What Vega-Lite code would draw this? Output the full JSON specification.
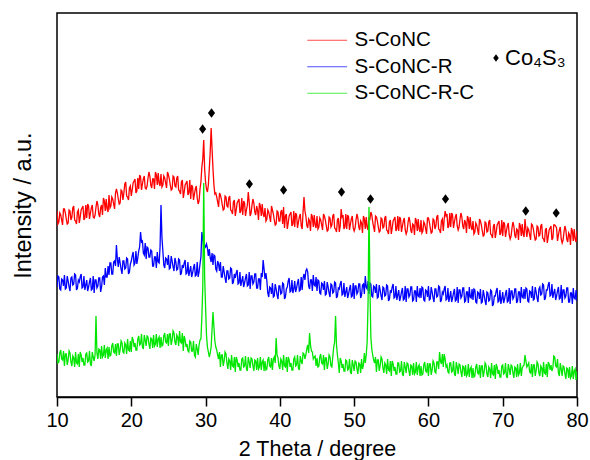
{
"$schema": "https://vega.github.io/schema/vega-lite/v6.json",
"width": 520, "height": 384,
"autosize": {"type": "none"},
"padding": {"left": 57, "top": 13, "right": 13, "bottom": 63},
"background": "white",
"config": {"view": {"stroke": "black", "strokeWidth": 1.5}, "font": "Liberation Sans"},
"datasets": {
"xrd": [
{"x":10,"s1":186,"s2":110,"s3":43},{"x":10.25,"s1":175,"s2":120,"s3":35},{"x":10.5,"s1":182,"s2":107,"s3":47},{"x":10.75,"s1":172,"s2":117,"s3":37},
{"x":11,"s1":188,"s2":122,"s3":31},{"x":11.25,"s1":178,"s2":109,"s3":43},{"x":11.5,"s1":174,"s2":116,"s3":37},{"x":11.75,"s1":186,"s2":106,"s3":44},
{"x":12,"s1":180,"s2":120,"s3":31},{"x":12.25,"s1":191,"s2":113,"s3":39},{"x":12.5,"s1":176,"s2":122,"s3":45},{"x":12.75,"s1":185,"s2":109,"s3":33},
{"x":13,"s1":174,"s2":115,"s3":30},{"x":13.25,"s1":187,"s2":123,"s3":42},{"x":13.5,"s1":191,"s2":110,"s3":39},{"x":13.75,"s1":179,"s2":107,"s3":32},
{"x":14,"s1":179,"s2":117,"s3":44},{"x":14.25,"s1":191,"s2":110,"s3":36},{"x":14.5,"s1":184,"s2":119,"s3":33},{"x":14.75,"s1":192,"s2":108,"s3":45},
{"x":15,"s1":179,"s2":104,"s3":36},{"x":15.25,"s1":190,"s2":117,"s3":81},{"x":15.5,"s1":192,"s2":111,"s3":38},{"x":15.75,"s1":180,"s2":119,"s3":47},
{"x":16,"s1":192,"s2":110,"s3":51},{"x":16.25,"s1":199,"s2":121,"s3":42},{"x":16.5,"s1":186,"s2":129,"s3":39},{"x":16.75,"s1":188,"s2":120,"s3":49},
{"x":17,"s1":202,"s2":122,"s3":50},{"x":17.25,"s1":191,"s2":134,"s3":42},{"x":17.5,"s1":198,"s2":123,"s3":54},{"x":17.75,"s1":188,"s2":136,"s3":44},
{"x":18,"s1":208,"s2":152,"s3":41},{"x":18.25,"s1":198,"s2":130,"s3":53},{"x":18.5,"s1":194,"s2":134,"s3":47},{"x":18.75,"s1":206,"s2":123,"s3":54},
{"x":19,"s1":204,"s2":136,"s3":44},{"x":19.25,"s1":215,"s2":129,"s3":52},{"x":19.5,"s1":200,"s2":138,"s3":58},{"x":19.75,"s1":209,"s2":125,"s3":46},
{"x":20,"s1":201,"s2":136,"s3":45},{"x":20.25,"s1":214,"s2":145,"s3":57},{"x":20.5,"s1":218,"s2":134,"s3":54},{"x":20.75,"s1":206,"s2":133,"s3":47},
{"x":21,"s1":208,"s2":146,"s3":61},{"x":21.25,"s1":220,"s2":165,"s3":53},{"x":21.5,"s1":213,"s2":156,"s3":50},{"x":21.75,"s1":221,"s2":142,"s3":62},
{"x":22,"s1":208,"s2":138,"s3":51},{"x":22.25,"s1":219,"s2":149,"s3":60},{"x":22.5,"s1":221,"s2":140,"s3":48},{"x":22.75,"s1":209,"s2":146,"s3":58},
{"x":23,"s1":218,"s2":131,"s3":62},{"x":23.25,"s1":225,"s2":140,"s3":53},{"x":23.5,"s1":212,"s2":145,"s3":50},{"x":23.75,"s1":214,"s2":134,"s3":60},
{"x":24,"s1":223,"s2":192,"s3":60},{"x":24.25,"s1":212,"s2":146,"s3":52},{"x":24.5,"s1":219,"s2":129,"s3":64},{"x":24.75,"s1":209,"s2":138,"s3":54},
{"x":25,"s1":222,"s2":142,"s3":51},{"x":25.25,"s1":212,"s2":129,"s3":63},{"x":25.5,"s1":208,"s2":136,"s3":57},{"x":25.75,"s1":220,"s2":126,"s3":64},
{"x":26,"s1":210,"s2":135,"s3":52},{"x":26.25,"s1":221,"s2":128,"s3":60},{"x":26.5,"s1":206,"s2":137,"s3":66},{"x":26.75,"s1":215,"s2":124,"s3":54},
{"x":27,"s1":199,"s2":129,"s3":46},{"x":27.25,"s1":212,"s2":137,"s3":57},{"x":27.5,"s1":216,"s2":124,"s3":53},{"x":27.75,"s1":204,"s2":121,"s3":45},
{"x":28,"s1":198,"s2":131,"s3":55},{"x":28.25,"s1":210,"s2":124,"s3":46},{"x":28.5,"s1":203,"s2":133,"s3":42},{"x":28.75,"s1":211,"s2":122,"s3":53},
{"x":29,"s1":193,"s2":120,"s3":42},{"x":29.25,"s1":208,"s2":133,"s3":57},{"x":29.5,"s1":230,"s2":165,"s3":80},{"x":29.75,"s1":257,"s2":150,"s3":214},
{"x":30,"s1":215,"s2":150,"s3":90},{"x":30.25,"s1":205,"s2":149,"s3":50},{"x":30.5,"s1":228,"s2":148,"s3":40},{"x":30.75,"s1":269,"s2":135,"s3":50},
{"x":31,"s1":228,"s2":132,"s3":85},{"x":31.25,"s1":203,"s2":141,"s3":56},{"x":31.5,"s1":200,"s2":126,"s3":47},{"x":31.75,"s1":190,"s2":133,"s3":38},
{"x":32,"s1":202,"s2":135,"s3":30},{"x":32.25,"s1":192,"s2":120,"s3":42},{"x":32.5,"s1":188,"s2":125,"s3":36},{"x":32.75,"s1":200,"s2":114,"s3":43},
{"x":33,"s1":190,"s2":126,"s3":28},{"x":33.25,"s1":201,"s2":119,"s3":36},{"x":33.5,"s1":186,"s2":128,"s3":42},{"x":33.75,"s1":195,"s2":115,"s3":30},
{"x":34,"s1":181,"s2":119,"s3":25},{"x":34.25,"s1":194,"s2":127,"s3":37},{"x":34.5,"s1":198,"s2":114,"s3":34},{"x":34.75,"s1":186,"s2":111,"s3":27},
{"x":35,"s1":182,"s2":121,"s3":39},{"x":35.25,"s1":194,"s2":114,"s3":31},{"x":35.5,"s1":187,"s2":123,"s3":28},{"x":35.75,"s1":205,"s2":112,"s3":40},
{"x":36,"s1":181,"s2":108,"s3":29},{"x":36.25,"s1":192,"s2":121,"s3":38},{"x":36.5,"s1":194,"s2":115,"s3":26},{"x":36.75,"s1":182,"s2":123,"s3":36},
{"x":37,"s1":187,"s2":109,"s3":39},{"x":37.25,"s1":194,"s2":118,"s3":30},{"x":37.5,"s1":181,"s2":124,"s3":27},{"x":37.75,"s1":183,"s2":137,"s3":37},
{"x":38,"s1":189,"s2":118,"s3":36},{"x":38.25,"s1":178,"s2":116,"s3":28},{"x":38.5,"s1":185,"s2":100,"s3":40},{"x":38.75,"s1":175,"s2":109,"s3":30},
{"x":39,"s1":187,"s2":114,"s3":27},{"x":39.25,"s1":177,"s2":101,"s3":40},{"x":39.5,"s1":173,"s2":108,"s3":59},{"x":39.75,"s1":185,"s2":98,"s3":39},
{"x":40,"s1":176,"s2":111,"s3":28},{"x":40.25,"s1":187,"s2":104,"s3":36},{"x":40.5,"s1":190,"s2":113,"s3":42},{"x":40.75,"s1":181,"s2":100,"s3":30},
{"x":41,"s1":168,"s2":110,"s3":25},{"x":41.25,"s1":181,"s2":119,"s3":37},{"x":41.5,"s1":185,"s2":106,"s3":34},{"x":41.75,"s1":173,"s2":104,"s3":27},
{"x":42,"s1":170,"s2":116,"s3":40},{"x":42.25,"s1":182,"s2":109,"s3":32},{"x":42.5,"s1":175,"s2":118,"s3":29},{"x":42.75,"s1":183,"s2":107,"s3":41},
{"x":43,"s1":168,"s2":107,"s3":33},{"x":43.25,"s1":200,"s2":123,"s3":43},{"x":43.5,"s1":181,"s2":126,"s3":42},{"x":43.75,"s1":169,"s2":125,"s3":52},
{"x":44,"s1":176,"s2":108,"s3":64},{"x":44.25,"s1":183,"s2":117,"s3":46},{"x":44.5,"s1":170,"s2":122,"s3":38},{"x":44.75,"s1":172,"s2":111,"s3":41},
{"x":45,"s1":181,"s2":106,"s3":39},{"x":45.25,"s1":170,"s2":116,"s3":31},{"x":45.5,"s1":177,"s2":103,"s3":43},{"x":45.75,"s1":167,"s2":113,"s3":33},
{"x":46,"s1":181,"s2":116,"s3":27},{"x":46.25,"s1":171,"s2":103,"s3":39},{"x":46.5,"s1":167,"s2":110,"s3":33},{"x":46.75,"s1":179,"s2":100,"s3":40},
{"x":47,"s1":172,"s2":112,"s3":30},{"x":47.25,"s1":183,"s2":105,"s3":50},{"x":47.5,"s1":168,"s2":114,"s3":81},{"x":47.75,"s1":177,"s2":101,"s3":42},
{"x":48,"s1":165,"s2":108,"s3":24},{"x":48.25,"s1":188,"s2":116,"s3":36},{"x":48.5,"s1":182,"s2":103,"s3":33},{"x":48.75,"s1":170,"s2":100,"s3":26},
{"x":49,"s1":168,"s2":110,"s3":36},{"x":49.25,"s1":180,"s2":103,"s3":28},{"x":49.5,"s1":173,"s2":112,"s3":25},{"x":49.75,"s1":181,"s2":101,"s3":37},
{"x":50,"s1":166,"s2":98,"s3":26},{"x":50.25,"s1":177,"s2":111,"s3":35},{"x":50.5,"s1":179,"s2":105,"s3":23},{"x":50.75,"s1":167,"s2":113,"s3":33},
{"x":51,"s1":174,"s2":102,"s3":38},{"x":51.25,"s1":181,"s2":113,"s3":32},{"x":51.5,"s1":168,"s2":121,"s3":34},{"x":51.75,"s1":170,"s2":108,"s3":55},
{"x":52,"s1":179,"s2":103,"s3":190},{"x":52.25,"s1":185,"s2":113,"s3":60},{"x":52.5,"s1":175,"s2":100,"s3":42},{"x":52.75,"s1":165,"s2":110,"s3":34},
{"x":53,"s1":180,"s2":113,"s3":25},{"x":53.25,"s1":170,"s2":100,"s3":37},{"x":53.5,"s1":166,"s2":107,"s3":31},{"x":53.75,"s1":178,"s2":97,"s3":38},
{"x":54,"s1":170,"s2":109,"s3":24},{"x":54.25,"s1":181,"s2":102,"s3":32},{"x":54.5,"s1":166,"s2":111,"s3":38},{"x":54.75,"s1":175,"s2":98,"s3":26},
{"x":55,"s1":163,"s2":105,"s3":21},{"x":55.25,"s1":176,"s2":113,"s3":33},{"x":55.5,"s1":180,"s2":100,"s3":30},{"x":55.75,"s1":168,"s2":97,"s3":23},
{"x":56,"s1":166,"s2":107,"s3":34},{"x":56.25,"s1":178,"s2":100,"s3":26},{"x":56.5,"s1":171,"s2":109,"s3":23},{"x":56.75,"s1":179,"s2":98,"s3":35},
{"x":57,"s1":163,"s2":95,"s3":24},{"x":57.25,"s1":174,"s2":108,"s3":33},{"x":57.5,"s1":176,"s2":102,"s3":21},{"x":57.75,"s1":164,"s2":110,"s3":31},
{"x":58,"s1":172,"s2":97,"s3":34},{"x":58.25,"s1":179,"s2":106,"s3":25},{"x":58.5,"s1":166,"s2":111,"s3":22},{"x":58.75,"s1":168,"s2":100,"s3":32},
{"x":59,"s1":177,"s2":99,"s3":31},{"x":59.25,"s1":166,"s2":109,"s3":23},{"x":59.5,"s1":173,"s2":96,"s3":35},{"x":59.75,"s1":163,"s2":106,"s3":25},
{"x":60,"s1":179,"s2":111,"s3":21},{"x":60.25,"s1":169,"s2":98,"s3":33},{"x":60.5,"s1":165,"s2":105,"s3":27},{"x":60.75,"s1":177,"s2":95,"s3":34},
{"x":61,"s1":171,"s2":108,"s3":24},{"x":61.25,"s1":182,"s2":101,"s3":35},{"x":61.5,"s1":167,"s2":110,"s3":45},{"x":61.75,"s1":176,"s2":97,"s3":33},
{"x":62,"s1":166,"s2":103,"s3":30},{"x":62.25,"s1":186,"s2":111,"s3":38},{"x":62.5,"s1":183,"s2":98,"s3":32},{"x":62.75,"s1":171,"s2":95,"s3":24},
{"x":63,"s1":170,"s2":106,"s3":34},{"x":63.25,"s1":182,"s2":99,"s3":26},{"x":63.5,"s1":175,"s2":108,"s3":23},{"x":63.75,"s1":183,"s2":97,"s3":35},
{"x":64,"s1":167,"s2":94,"s3":23},{"x":64.25,"s1":178,"s2":107,"s3":32},{"x":64.5,"s1":180,"s2":101,"s3":20},{"x":64.75,"s1":168,"s2":109,"s3":30},
{"x":65,"s1":174,"s2":96,"s3":32},{"x":65.25,"s1":181,"s2":105,"s3":23},{"x":65.5,"s1":168,"s2":110,"s3":20},{"x":65.75,"s1":170,"s2":99,"s3":30},
{"x":66,"s1":176,"s2":97,"s3":29},{"x":66.25,"s1":165,"s2":107,"s3":21},{"x":66.5,"s1":172,"s2":94,"s3":33},{"x":66.75,"s1":162,"s2":104,"s3":23},
{"x":67,"s1":176,"s2":108,"s3":19},{"x":67.25,"s1":166,"s2":95,"s3":31},{"x":67.5,"s1":162,"s2":102,"s3":25},{"x":67.75,"s1":174,"s2":92,"s3":32},
{"x":68,"s1":166,"s2":104,"s3":20},{"x":68.25,"s1":177,"s2":97,"s3":28},{"x":68.5,"s1":162,"s2":106,"s3":34},{"x":68.75,"s1":171,"s2":93,"s3":22},
{"x":69,"s1":159,"s2":101,"s3":18},{"x":69.25,"s1":172,"s2":109,"s3":30},{"x":69.5,"s1":176,"s2":96,"s3":27},{"x":69.75,"s1":164,"s2":93,"s3":20},
{"x":70,"s1":161,"s2":105,"s3":32},{"x":70.25,"s1":173,"s2":98,"s3":24},{"x":70.5,"s1":166,"s2":107,"s3":21},{"x":70.75,"s1":174,"s2":96,"s3":33},
{"x":71,"s1":158,"s2":93,"s3":22},{"x":71.25,"s1":169,"s2":106,"s3":31},{"x":71.5,"s1":171,"s2":100,"s3":19},{"x":71.75,"s1":159,"s2":108,"s3":29},
{"x":72,"s1":167,"s2":96,"s3":33},{"x":72.25,"s1":174,"s2":105,"s3":24},{"x":72.5,"s1":161,"s2":110,"s3":21},{"x":72.75,"s1":163,"s2":99,"s3":31},
{"x":73,"s1":178,"s2":98,"s3":42},{"x":73.25,"s1":160,"s2":108,"s3":30},{"x":73.5,"s1":167,"s2":95,"s3":34},{"x":73.75,"s1":157,"s2":105,"s3":24},
{"x":74,"s1":172,"s2":111,"s3":20},{"x":74.25,"s1":162,"s2":98,"s3":32},{"x":74.5,"s1":158,"s2":105,"s3":26},{"x":74.75,"s1":170,"s2":95,"s3":33},
{"x":75,"s1":162,"s2":110,"s3":21},{"x":75.25,"s1":173,"s2":103,"s3":29},{"x":75.5,"s1":158,"s2":112,"s3":35},{"x":75.75,"s1":167,"s2":99,"s3":23},
{"x":76,"s1":154,"s2":107,"s3":20},{"x":76.25,"s1":167,"s2":115,"s3":33},{"x":76.5,"s1":171,"s2":102,"s3":32},{"x":76.75,"s1":159,"s2":99,"s3":29},
{"x":77,"s1":172,"s2":108,"s3":40},{"x":77.25,"s1":169,"s2":101,"s3":30},{"x":77.5,"s1":162,"s2":110,"s3":24},{"x":77.75,"s1":170,"s2":99,"s3":34},
{"x":78,"s1":154,"s2":94,"s3":21},{"x":78.25,"s1":165,"s2":107,"s3":30},{"x":78.5,"s1":167,"s2":101,"s3":18},{"x":78.75,"s1":155,"s2":109,"s3":28},
{"x":79,"s1":162,"s2":95,"s3":30},{"x":79.25,"s1":169,"s2":104,"s3":21},{"x":79.5,"s1":156,"s2":109,"s3":18},{"x":79.75,"s1":158,"s2":98,"s3":28},
{"x":80,"s1":166,"s2":96,"s3":26},
{"x":10.125,"s1":173,"s2":121,"s3":34},{"x":10.375,"s1":184,"s2":108,"s3":44},{"x":10.625,"s1":177,"s2":118,"s3":38},{"x":10.875,"s1":188,"s2":111,"s3":46},
{"x":11.125,"s1":184,"s2":108,"s3":43},{"x":11.375,"s1":173,"s2":121,"s3":32},{"x":11.625,"s1":187,"s2":110,"s3":46},{"x":11.875,"s1":177,"s2":119,"s3":35},
{"x":12.125,"s1":189,"s2":112,"s3":41},{"x":12.375,"s1":177,"s2":123,"s3":30},{"x":12.625,"s1":173,"s2":107,"s3":34},{"x":12.875,"s1":187,"s2":117,"s3":43},
{"x":13.125,"s1":180,"s2":120,"s3":45},{"x":13.375,"s1":189,"s2":109,"s3":35},{"x":13.625,"s1":177,"s2":121,"s3":32},{"x":13.875,"s1":192,"s2":112,"s3":43},
{"x":14.125,"s1":193,"s2":106,"s3":35},{"x":14.375,"s1":178,"s2":115,"s3":46},{"x":14.625,"s1":189,"s2":107,"s3":31},{"x":14.875,"s1":180,"s2":121,"s3":40},
{"x":15.125,"s1":182,"s2":117,"s3":42},{"x":15.375,"s1":196,"s2":109,"s3":44},{"x":15.625,"s1":183,"s2":119,"s3":48},{"x":15.875,"s1":189,"s2":105,"s3":38},
{"x":16.125,"s1":182,"s2":120,"s3":40},{"x":16.375,"s1":196,"s2":112,"s3":52},{"x":16.625,"s1":198,"s2":120,"s3":47},{"x":16.875,"s1":185,"s2":131,"s3":38},
{"x":17.125,"s1":189,"s2":134,"s3":41},{"x":17.375,"s1":200,"s2":123,"s3":51},{"x":17.625,"s1":193,"s2":135,"s3":45},{"x":17.875,"s1":204,"s2":131,"s3":53},
{"x":18.125,"s1":204,"s2":138,"s3":53},{"x":18.375,"s1":193,"s2":140,"s3":42},{"x":18.625,"s1":207,"s2":128,"s3":56},{"x":18.875,"s1":197,"s2":136,"s3":45},
{"x":19.125,"s1":213,"s2":128,"s3":54},{"x":19.375,"s1":201,"s2":139,"s3":43},{"x":19.625,"s1":197,"s2":123,"s3":47},{"x":19.875,"s1":211,"s2":133,"s3":56},
{"x":20.125,"s1":207,"s2":141,"s3":60},{"x":20.375,"s1":216,"s2":132,"s3":50},{"x":20.625,"s1":204,"s2":146,"s3":47},{"x":20.875,"s1":219,"s2":139,"s3":58},
{"x":21.125,"s1":222,"s2":150,"s3":52},{"x":21.375,"s1":207,"s2":155,"s3":63},{"x":21.625,"s1":218,"s2":144,"s3":48},{"x":21.875,"s1":209,"s2":154,"s3":57},
{"x":22.125,"s1":211,"s2":150,"s3":61},{"x":22.375,"s1":225,"s2":140,"s3":53},{"x":22.625,"s1":212,"s2":147,"s3":59},{"x":22.875,"s1":218,"s2":131,"s3":49},
{"x":23.125,"s1":208,"s2":140,"s3":51},{"x":23.375,"s1":222,"s2":129,"s3":63},{"x":23.625,"s1":224,"s2":135,"s3":58},{"x":23.875,"s1":211,"s2":150,"s3":49},
{"x":24.125,"s1":210,"s2":160,"s3":51},{"x":24.375,"s1":221,"s2":132,"s3":61},{"x":24.625,"s1":214,"s2":139,"s3":55},{"x":24.875,"s1":225,"s2":132,"s3":63},
{"x":25.125,"s1":218,"s2":128,"s3":63},{"x":25.375,"s1":207,"s2":141,"s3":52},{"x":25.625,"s1":221,"s2":130,"s3":66},{"x":25.875,"s1":211,"s2":139,"s3":55},
{"x":26.125,"s1":219,"s2":127,"s3":62},{"x":26.375,"s1":207,"s2":138,"s3":51},{"x":26.625,"s1":203,"s2":122,"s3":55},{"x":26.875,"s1":217,"s2":132,"s3":64},
{"x":27.125,"s1":205,"s2":134,"s3":61},{"x":27.375,"s1":214,"s2":123,"s3":50},{"x":27.625,"s1":202,"s2":135,"s3":46},{"x":27.875,"s1":217,"s2":126,"s3":56},
{"x":28.125,"s1":212,"s2":120,"s3":46},{"x":28.375,"s1":197,"s2":129,"s3":56},{"x":28.625,"s1":208,"s2":121,"s3":40},{"x":28.875,"s1":199,"s2":135,"s3":48},
{"x":29.125,"s1":196,"s2":125,"s3":52},{"x":29.375,"s1":215,"s2":140,"s3":58},{"x":29.625,"s1":238,"s2":158,"s3":110},{"x":29.875,"s1":228,"s2":152,"s3":120},
{"x":30.125,"s1":208,"s2":153,"s3":62},{"x":30.375,"s1":212,"s2":141,"s3":45},{"x":30.625,"s1":245,"s2":139,"s3":44},{"x":30.875,"s1":248,"s2":144,"s3":68},
{"x":31.125,"s1":212,"s2":142,"s3":70},{"x":31.375,"s1":204,"s2":128,"s3":50},{"x":31.625,"s1":195,"s2":136,"s3":42},{"x":31.875,"s1":204,"s2":126,"s3":45},
{"x":32.125,"s1":198,"s2":120,"s3":42},{"x":32.375,"s1":187,"s2":131,"s3":31},{"x":32.625,"s1":201,"s2":119,"s3":45},{"x":32.875,"s1":191,"s2":126,"s3":34},
{"x":33.125,"s1":199,"s2":118,"s3":38},{"x":33.375,"s1":187,"s2":129,"s3":27},{"x":33.625,"s1":183,"s2":113,"s3":31},{"x":33.875,"s1":197,"s2":123,"s3":40},
{"x":34.125,"s1":187,"s2":124,"s3":40},{"x":34.375,"s1":196,"s2":113,"s3":30},{"x":34.625,"s1":184,"s2":125,"s3":27},{"x":34.875,"s1":199,"s2":116,"s3":38},
{"x":35.125,"s1":196,"s2":110,"s3":30},{"x":35.375,"s1":181,"s2":119,"s3":41},{"x":35.625,"s1":192,"s2":111,"s3":26},{"x":35.875,"s1":195,"s2":125,"s3":35},
{"x":36.125,"s1":184,"s2":121,"s3":39},{"x":36.375,"s1":198,"s2":113,"s3":31},{"x":36.625,"s1":185,"s2":123,"s3":37},{"x":36.875,"s1":191,"s2":109,"s3":27},
{"x":37.125,"s1":177,"s2":118,"s3":28},{"x":37.375,"s1":191,"s2":107,"s3":40},{"x":37.625,"s1":193,"s2":120,"s3":35},{"x":37.875,"s1":180,"s2":128,"s3":26},
{"x":38.125,"s1":176,"s2":124,"s3":27},{"x":38.375,"s1":187,"s2":104,"s3":37},{"x":38.625,"s1":180,"s2":110,"s3":31},{"x":38.875,"s1":191,"s2":103,"s3":39},
{"x":39.125,"s1":183,"s2":100,"s3":38},{"x":39.375,"s1":172,"s2":113,"s3":34},{"x":39.625,"s1":186,"s2":102,"s3":42},{"x":39.875,"s1":176,"s2":111,"s3":31},
{"x":40.125,"s1":185,"s2":103,"s3":38},{"x":40.375,"s1":173,"s2":114,"s3":27},{"x":40.625,"s1":169,"s2":98,"s3":31},{"x":40.875,"s1":183,"s2":108,"s3":40},
{"x":41.125,"s1":174,"s2":116,"s3":40},{"x":41.375,"s1":183,"s2":105,"s3":30},{"x":41.625,"s1":171,"s2":117,"s3":27},{"x":41.875,"s1":186,"s2":108,"s3":38},
{"x":42.125,"s1":184,"s2":105,"s3":31},{"x":42.375,"s1":169,"s2":114,"s3":42},{"x":42.625,"s1":180,"s2":106,"s3":27},{"x":42.875,"s1":171,"s2":120,"s3":36},
{"x":43.125,"s1":185,"s2":119,"s3":44},{"x":43.375,"s1":186,"s2":117,"s3":38},{"x":43.625,"s1":172,"s2":128,"s3":48},{"x":43.875,"s1":178,"s2":111,"s3":44},
{"x":44.125,"s1":166,"s2":117,"s3":52},{"x":44.375,"s1":180,"s2":106,"s3":45},{"x":44.625,"s1":182,"s2":112,"s3":40},{"x":44.875,"s1":169,"s2":120,"s3":31},
{"x":45.125,"s1":168,"s2":117,"s3":30},{"x":45.375,"s1":179,"s2":104,"s3":40},{"x":45.625,"s1":172,"s2":114,"s3":34},{"x":45.875,"s1":183,"s2":107,"s3":42},
{"x":46.125,"s1":177,"s2":102,"s3":39},{"x":46.375,"s1":166,"s2":115,"s3":28},{"x":46.625,"s1":180,"s2":104,"s3":42},{"x":46.875,"s1":170,"s2":113,"s3":31},
{"x":47.125,"s1":181,"s2":104,"s3":40},{"x":47.375,"s1":169,"s2":115,"s3":55},{"x":47.625,"s1":165,"s2":99,"s3":52},{"x":47.875,"s1":179,"s2":109,"s3":34},
{"x":48.125,"s1":171,"s2":113,"s3":39},{"x":48.375,"s1":180,"s2":102,"s3":29},{"x":48.625,"s1":168,"s2":114,"s3":26},{"x":48.875,"s1":183,"s2":105,"s3":37},
{"x":49.125,"s1":182,"s2":99,"s3":27},{"x":49.375,"s1":167,"s2":108,"s3":38},{"x":49.625,"s1":178,"s2":100,"s3":23},{"x":49.875,"s1":169,"s2":114,"s3":32},
{"x":50.125,"s1":169,"s2":111,"s3":36},{"x":50.375,"s1":183,"s2":103,"s3":28},{"x":50.625,"s1":170,"s2":113,"s3":34},{"x":50.875,"s1":176,"s2":99,"s3":24},
{"x":51.125,"s1":164,"s2":112,"s3":28},{"x":51.375,"s1":178,"s2":103,"s3":44},{"x":51.625,"s1":180,"s2":110,"s3":42},{"x":51.875,"s1":167,"s2":116,"s3":95},
{"x":52.125,"s1":178,"s2":114,"s3":110},{"x":52.375,"s1":182,"s2":101,"s3":48},{"x":52.625,"s1":170,"s2":111,"s3":37},{"x":52.875,"s1":181,"s2":104,"s3":40},
{"x":53.125,"s1":176,"s2":99,"s3":37},{"x":53.375,"s1":165,"s2":112,"s3":26},{"x":53.625,"s1":179,"s2":101,"s3":40},{"x":53.875,"s1":169,"s2":110,"s3":29},
{"x":54.125,"s1":179,"s2":101,"s3":34},{"x":54.375,"s1":167,"s2":112,"s3":23},{"x":54.625,"s1":163,"s2":96,"s3":27},{"x":54.875,"s1":177,"s2":106,"s3":36},
{"x":55.125,"s1":169,"s2":110,"s3":36},{"x":55.375,"s1":178,"s2":99,"s3":26},{"x":55.625,"s1":166,"s2":111,"s3":23},{"x":55.875,"s1":181,"s2":102,"s3":34},
{"x":56.125,"s1":180,"s2":96,"s3":25},{"x":56.375,"s1":165,"s2":105,"s3":36},{"x":56.625,"s1":176,"s2":97,"s3":21},{"x":56.875,"s1":167,"s2":111,"s3":30},
{"x":57.125,"s1":166,"s2":108,"s3":34},{"x":57.375,"s1":180,"s2":100,"s3":26},{"x":57.625,"s1":167,"s2":110,"s3":32},{"x":57.875,"s1":173,"s2":96,"s3":22},
{"x":58.125,"s1":162,"s2":106,"s3":23},{"x":58.375,"s1":176,"s2":95,"s3":35},{"x":58.625,"s1":178,"s2":101,"s3":30},{"x":58.875,"s1":165,"s2":109,"s3":21},
{"x":59.125,"s1":164,"s2":110,"s3":22},{"x":59.375,"s1":175,"s2":97,"s3":32},{"x":59.625,"s1":168,"s2":107,"s3":26},{"x":59.875,"s1":179,"s2":100,"s3":34},
{"x":60.125,"s1":175,"s2":97,"s3":33},{"x":60.375,"s1":164,"s2":110,"s3":22},{"x":60.625,"s1":178,"s2":99,"s3":36},{"x":60.875,"s1":168,"s2":108,"s3":25},
{"x":61.125,"s1":180,"s2":100,"s3":35},{"x":61.375,"s1":168,"s2":111,"s3":28},{"x":61.625,"s1":164,"s2":95,"s3":36},{"x":61.875,"s1":178,"s2":105,"s3":43},
{"x":62.125,"s1":178,"s2":108,"s3":43},{"x":62.375,"s1":181,"s2":97,"s3":30},{"x":62.625,"s1":169,"s2":109,"s3":25},{"x":62.875,"s1":184,"s2":100,"s3":34},
{"x":63.125,"s1":184,"s2":95,"s3":25},{"x":63.375,"s1":169,"s2":104,"s3":36},{"x":63.625,"s1":180,"s2":96,"s3":21},{"x":63.875,"s1":171,"s2":110,"s3":30},
{"x":64.125,"s1":170,"s2":107,"s3":33},{"x":64.375,"s1":184,"s2":99,"s3":25},{"x":64.625,"s1":171,"s2":109,"s3":31},{"x":64.875,"s1":177,"s2":95,"s3":21},
{"x":65.125,"s1":164,"s2":105,"s3":21},{"x":65.375,"s1":178,"s2":94,"s3":33},{"x":65.625,"s1":180,"s2":100,"s3":28},{"x":65.875,"s1":167,"s2":108,"s3":19},
{"x":66.125,"s1":163,"s2":108,"s3":20},{"x":66.375,"s1":174,"s2":95,"s3":30},{"x":66.625,"s1":167,"s2":105,"s3":24},{"x":66.875,"s1":178,"s2":98,"s3":32},
{"x":67.125,"s1":172,"s2":94,"s3":31},{"x":67.375,"s1":161,"s2":107,"s3":20},{"x":67.625,"s1":175,"s2":96,"s3":34},{"x":67.875,"s1":165,"s2":105,"s3":23},
{"x":68.125,"s1":175,"s2":96,"s3":30},{"x":68.375,"s1":163,"s2":107,"s3":19},{"x":68.625,"s1":159,"s2":91,"s3":23},{"x":68.875,"s1":173,"s2":101,"s3":32},
{"x":69.125,"s1":165,"s2":106,"s3":33},{"x":69.375,"s1":174,"s2":95,"s3":23},{"x":69.625,"s1":162,"s2":107,"s3":20},{"x":69.875,"s1":177,"s2":98,"s3":31},
{"x":70.125,"s1":175,"s2":94,"s3":23},{"x":70.375,"s1":160,"s2":103,"s3":34},{"x":70.625,"s1":171,"s2":95,"s3":19},{"x":70.875,"s1":162,"s2":109,"s3":28},
{"x":71.125,"s1":161,"s2":106,"s3":32},{"x":71.375,"s1":175,"s2":98,"s3":24},{"x":71.625,"s1":162,"s2":108,"s3":30},{"x":71.875,"s1":168,"s2":94,"s3":20},
{"x":72.125,"s1":157,"s2":105,"s3":22},{"x":72.375,"s1":171,"s2":94,"s3":34},{"x":72.625,"s1":173,"s2":100,"s3":29},{"x":72.875,"s1":160,"s2":108,"s3":32},
{"x":73.125,"s1":168,"s2":109,"s3":36},{"x":73.375,"s1":169,"s2":96,"s3":32},{"x":73.625,"s1":162,"s2":106,"s3":25},{"x":73.875,"s1":173,"s2":99,"s3":33},
{"x":74.125,"s1":168,"s2":97,"s3":32},{"x":74.375,"s1":157,"s2":110,"s3":21},{"x":74.625,"s1":171,"s2":99,"s3":35},{"x":74.875,"s1":161,"s2":108,"s3":24},
{"x":75.125,"s1":171,"s2":102,"s3":31},{"x":75.375,"s1":159,"s2":113,"s3":20},{"x":75.625,"s1":155,"s2":97,"s3":24},{"x":75.875,"s1":169,"s2":107,"s3":33},
{"x":76.125,"s1":160,"s2":112,"s3":35},{"x":76.375,"s1":169,"s2":101,"s3":27},{"x":76.625,"s1":157,"s2":113,"s3":26},{"x":76.875,"s1":172,"s2":104,"s3":41},
{"x":77.125,"s1":171,"s2":97,"s3":31},{"x":77.375,"s1":156,"s2":106,"s3":38},{"x":77.625,"s1":167,"s2":98,"s3":21},{"x":77.875,"s1":158,"s2":112,"s3":28},
{"x":78.125,"s1":157,"s2":107,"s3":31},{"x":78.375,"s1":171,"s2":99,"s3":23},{"x":78.625,"s1":158,"s2":109,"s3":29},{"x":78.875,"s1":164,"s2":95,"s3":19},
{"x":79.125,"s1":152,"s2":104,"s3":19},{"x":79.375,"s1":166,"s2":93,"s3":31},{"x":79.625,"s1":168,"s2":99,"s3":26},{"x":79.875,"s1":155,"s2":107,"s3":17}
],
"peaks": [
{"x":29.6,"y":268,"m":"Co₄S₃"},{"x":30.8,"y":284,"m":"Co₄S₃"},{"x":35.9,"y":213,"m":"Co₄S₃"},{"x":40.5,"y":207,"m":"Co₄S₃"},{"x":48.3,"y":205,"m":"Co₄S₃"},{"x":52.2,"y":198,"m":"Co₄S₃"},{"x":62.3,"y":198,"m":"Co₄S₃"},{"x":73.1,"y":186,"m":"Co₄S₃"},{"x":77.2,"y":184,"m":"Co₄S₃"}
]
},
"layer": [
{
"data": {"name": "xrd"},
"transform": [{"fold": ["s1", "s2", "s3"], "as": ["series", "I"]}],
"mark": {"type": "line", "strokeWidth": 1.3, "clip": true},
"encoding": {
"x": {"field": "x", "type": "quantitative",
"scale": {"domain": [10, 80], "nice": false, "zero": false},
"axis": {"title": "2 Theta / degree", "values": [10,15,20,25,30,35,40,45,50,55,60,65,70,75,80],
"labelExpr": "datum.value % 10 == 0 ? datum.label : ''", "labelFlush": false, "labelOverlap": false,
"grid": false, "domainColor": "black", "domainWidth": 1.5, "tickColor": "black", "tickWidth": 1.5, "tickSize": 9,
"labelFontSize": 20, "labelColor": "black", "labelFont": "Liberation Sans", "labelPadding": 4,
"titleFontSize": 21.5, "titleFont": "Liberation Sans", "titleFontWeight": "normal", "titleColor": "black", "titlePadding": 8,
"encode": {"ticks": {"update": {"y2": {"signal": "datum.value % 10 == 0 ? 9 : 5"}}}}}},
"y": {"field": "I", "type": "quantitative",
"scale": {"domain": [0, 384], "nice": false, "zero": false},
"axis": {"title": "Intensity / a.u.", "labels": false, "ticks": false, "domain": false, "grid": false,
"titleFontSize": 23.5, "titleFont": "Liberation Sans", "titleFontWeight": "normal", "titleColor": "black", "titlePadding": 22}},
"color": {"field": "series", "type": "nominal",
"scale": {"domain": ["s1", "s2", "s3"], "range": ["#ff0000", "#0000ff", "#00e600"]},
"legend": {"title": null, "orient": "none", "legendX": 240, "legendY": 17, "padding": 0,
"labelExpr": "datum.label == 's1' ? 'S-CoNC' : datum.label == 's2' ? 'S-CoNC-R' : 'S-CoNC-R-C'",
"labelFontSize": 20.5, "labelFont": "Liberation Sans", "labelColor": "black",
"symbolType": "M0,0H7.6", "symbolSize": 110, "symbolStrokeWidth": 0.7, "labelOffset": 37, "rowPadding": 5.5}}
}
},
{
"data": {"name": "peaks"},
"mark": {"type": "point", "filled": true, "color": "black", "size": 90, "opacity": 1, "shape": "M0,-1L0.75,0L0,1L-0.75,0Z"},
"encoding": {
"x": {"field": "x", "type": "quantitative"},
"y": {"field": "y", "type": "quantitative"},
"shape": {"field": "m", "type": "nominal", "scale": {"range": ["M0,-1L0.75,0L0,1L-0.75,0Z"]},
"legend": {"title": null, "orient": "none", "legendX": 428, "legendY": 34, "padding": 0,
"labelFontSize": 22, "labelFont": "Liberation Sans", "labelColor": "black",
"symbolFillColor": "black", "symbolStrokeColor": "black", "symbolSize": 55, "symbolOpacity": 1, "labelOffset": -2}}
}
}
]
}
